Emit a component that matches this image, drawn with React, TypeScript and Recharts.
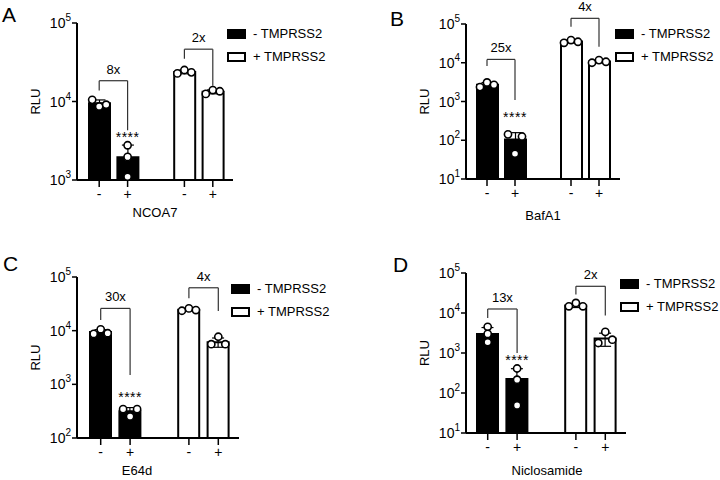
import { ComposedChart, Bar, Cell, ErrorBar, Scatter, XAxis, YAxis, ReferenceLine, ReferenceDot, Legend, Label } from 'recharts';

const FONT = '"Liberation Sans", Arial, sans-serif';

// categories: two "-"/"+" pairs with an empty slot between the groups
const CATS = ['neg1', 'pos1', 'gap', 'neg2', 'pos2'];
const TICK_LABELS = ['-', '+', '', '-', '+'];
const GROUP = ['minus', 'minus', '', 'plus', 'plus'];
const LEGEND_LABELS = ['- TMPRSS2', '+ TMPRSS2'];
const STAR_TEXT = '****';

// A - NCOA7
const A_MEAN = [9500, 1950, null, 23800, 13300];
const A_SD = [970, 835, null, 1250, 760];
const A_P1 = [10500, 2770, null, 22800, 12500];
const A_P2 = [8650, 1970, null, 25200, 14000];
const A_P3 = [9100, 1100, null, 23500, 13500];
const A_BR_TOP = [18400, 46400];
const A_BR_LEFT = [13800, 35000];
const A_BR_RIGHT = [4300, 15900];
const A_FOLD = ['8x', '2x'];
const A_STAR = 3700;
const A_TICKS = [1e3, 1e4, 1e5];

// B - BafA1
const B_MEAN = [2700, 104, null, 35300, 10800];
const B_SD = [375, 53, null, 2900, 850];
const B_P1 = [2350, 142, null, 32700, 10000];
const B_P2 = [3100, 125, null, 38500, 11700];
const B_P3 = [2700, 45, null, 34800, 10600];
const B_BR_TOP = [12200, 140000];
const B_BR_LEFT = [8300, 85000];
const B_BR_RIGHT = [1100, 26000];
const B_FOLD = ['25x', '4x'];
const B_STAR = 440;
const B_TICKS = [1e1, 1e2, 1e3, 1e4, 1e5];

// C - E64d
const C_MEAN = [9400, 314, null, 24600, 6100];
const C_SD = [1050, 55, null, 1300, 1200];
const C_P1 = [8700, 345, null, 23500, 5600];
const C_P2 = [10600, 252, null, 26000, 7700];
const C_P3 = [8950, 345, null, 24200, 5600];
const C_BR_TOP = [26000, 63000];
const C_BR_LEFT = [15800, 40000];
const C_BR_RIGHT = [1490, 23200];
const C_FOLD = ['30x', '4x'];
const C_STAR = 635;
const C_TICKS = [1e2, 1e3, 1e4, 1e5];

// D - Niclosamide
const D_MEAN = [3000, 225, null, 15500, 2300];
const D_SD = [1330, 180, null, 1800, 830];
const D_P1 = [4500, 410, null, 14700, 3370];
const D_P2 = [3000, 215, null, 17800, 1780];
const D_P3 = [1850, 49, null, 14700, 2150];
const D_BR_TOP = [12600, 46500];
const D_BR_LEFT = [7500, 29000];
const D_BR_RIGHT = [1000, 8600];
const D_FOLD = ['13x', '2x'];
const D_STAR = 750;
const D_TICKS = [1e1, 1e2, 1e3, 1e4, 1e5];

const W = 360;
const H = 240;
const X_AXIS_H = 40;
const Y_AXIS_W = 60;
const JITTER = 7;
const OVERLAP_PX = 6.5;

const buildRows = (mean, sd, p1, p2, p3) =>
  CATS.map((cat, i) => ({ cat, mean: mean[i], sd: sd[i], p1: p1[i], p2: p2[i], p3: p3[i] }));

// GraphPad-style scatter: points whose circles would overlap get spread sideways
function makeDot(key: string, decadePx: number) {
  return (props: any) => {
    const { cx, cy, payload } = props;
    if (!Number.isFinite(cx) || !Number.isFinite(cy)) return <g />;
    const keys = ['p1', 'p2', 'p3'];
    const vals = keys.map(k => payload[k]);
    const me = keys.indexOf(key);
    const near = (a: number, b: number) => Math.abs(Math.log10(vals[a] / vals[b])) * decadePx < OVERLAP_PX;
    const group = [me];
    let grew = true;
    while (grew) {
      grew = false;
      for (let j = 0; j < 3; j++) {
        if (!group.includes(j) && group.some(g => near(g, j))) {
          group.push(j);
          grew = true;
        }
      }
    }
    group.sort();
    const slots = group.length === 1 ? [0] : group.length === 2 ? [-JITTER, JITTER] : [-JITTER, 0, JITTER];
    const dx = slots[group.indexOf(me)];
    return <circle cx={cx + dx} cy={cy} r={3.6} fill="#fff" stroke="#000" strokeWidth={1.6} />;
  };
}

const XTick = (props: any) => {
  const { x, y, payload } = props;
  const label = TICK_LABELS[CATS.indexOf(payload.value)];
  if (!label) return <g />;
  return (
    <g>
      <line x1={x} x2={x} y1={y - 9} y2={y - 2} stroke="#000" strokeWidth={1.5} />
      <text x={x} y={y + 10} textAnchor="middle" fontSize={14} fontFamily={FONT} fill="#000">{label}</text>
    </g>
  );
};

const YTick = (props: any) => {
  const { x, y, payload } = props;
  const exp = Math.round(Math.log10(payload.value));
  return (
    <text x={x} y={y} dy={5} textAnchor="end" fontSize={14} fontFamily={FONT} fill="#000">
      10<tspan dy={-7} fontSize={10}>{exp}</tspan>
    </text>
  );
};

const LegendBox = () => (
  <div style={{ fontFamily: FONT, fontSize: 13, color: '#000' }}>
    {LEGEND_LABELS.map((l, i) => (
      <div key={l} style={{ display: 'flex', alignItems: 'center', height: 23, whiteSpace: 'nowrap' }}>
        <svg width={19} height={10} style={{ marginRight: 7 }}>
          <rect x={1} y={1} width={17} height={8} fill={i === 0 ? '#000' : '#fff'} stroke="#000" strokeWidth={2} />
        </svg>
        <span>{l}</span>
      </div>
    ))}
  </div>
);

function Panel(p: any) {
  const data = buildRows(p.mean, p.sd, p.p1, p.p2, p.p3);
  const decades = Math.log10(p.ticks[p.ticks.length - 1] / p.ticks[0]);
  const decadePx = (H - p.margin.top - p.margin.bottom - X_AXIS_H) / decades;
  const pairs = [[CATS[0], CATS[1]], [CATS[3], CATS[4]]];
  return (
    <div style={{ position: 'absolute', left: p.left, top: p.top, width: W, height: H }}>
      <ComposedChart width={W} height={H} data={data} margin={p.margin}>
        <XAxis
          dataKey="cat"
          type="category"
          height={X_AXIS_H}
          padding={p.padding}
          stroke="#000"
          axisLine={{ stroke: '#000', strokeWidth: 2 }}
          tickLine={false}
          tickSize={7}
          tickMargin={2}
          interval={0}
          tick={<XTick />}
        >
          <Label
            content={(lp: any) => {
              const vb = lp.viewBox;
              return (
                <text x={vb.x + vb.width / 2 + p.xLabelDx} y={vb.y + p.xLabelDy} dominantBaseline="central"
                  textAnchor="middle" fontSize={13} fontFamily={FONT} fill="#000">{p.drug}</text>
              );
            }}
          />
        </XAxis>
        <YAxis
          type="number"
          scale="log"
          domain={[p.ticks[0], p.ticks[p.ticks.length - 1]]}
          ticks={p.ticks}
          allowDataOverflow
          interval={0}
          width={Y_AXIS_W}
          stroke="#000"
          axisLine={{ stroke: '#000', strokeWidth: 2 }}
          tickLine={{ stroke: '#000', strokeWidth: 1.5 }}
          tickSize={5}
          tickMargin={1}
          tick={<YTick />}
        >
          <Label
            content={(lp: any) => {
              const vb = lp.viewBox;
              const cx = vb.x + vb.width - 42;
              const cy = vb.y + vb.height / 2;
              return (
                <text x={cx} y={cy} transform={`rotate(-90 ${cx} ${cy})`} dominantBaseline="central"
                  textAnchor="middle" fontSize={13} fontFamily={FONT} fill="#000">RLU</text>
              );
            }}
          />
        </YAxis>
        <Legend
          layout="vertical"
          align="center"
          verticalAlign="middle"
          content={<LegendBox />}
          wrapperStyle={{ left: p.legendLeft, top: p.legendTop, width: 'auto', height: 'auto' }}
        />
        <Bar dataKey="mean" barSize={21} isAnimationActive={false} stroke="#000" strokeWidth={2}>
          {data.map((d, i) => (
            <Cell key={d.cat} fill={GROUP[i] === 'minus' ? '#000' : '#fff'} />
          ))}
          <ErrorBar dataKey="sd" direction="y" width={6} stroke="#000" strokeWidth={1.2} />
        </Bar>
        {['p1', 'p2', 'p3'].map(k => (
          <Scatter key={k} dataKey={k} isAnimationActive={false} legendType="none" shape={makeDot(k, decadePx)} />
        ))}
        {pairs.map(([a, b], i) => (
          <ReferenceLine
            key={`top${i}`}
            segment={[{ x: a, y: p.brTop[i] }, { x: b, y: p.brTop[i] }]}
            stroke="#333"
            strokeWidth={1.2}
            ifOverflow="visible"
            label={{ value: p.fold[i], position: 'top', offset: 7, fontSize: 13, fill: '#000', fontFamily: FONT }}
          />
        ))}
        {pairs.map(([a], i) => (
          <ReferenceLine key={`l${i}`} segment={[{ x: a, y: p.brTop[i] }, { x: a, y: p.brLeft[i] }]}
            stroke="#333" strokeWidth={1.2} ifOverflow="visible" />
        ))}
        {pairs.map(([, b], i) => (
          <ReferenceLine key={`r${i}`} segment={[{ x: b, y: p.brTop[i] }, { x: b, y: p.brRight[i] }]}
            stroke="#333" strokeWidth={1.2} ifOverflow="visible" />
        ))}
        <ReferenceDot
          x={CATS[1]}
          y={p.star}
          r={0}
          ifOverflow="visible"
          label={(lp: any) => (
            <text x={lp.viewBox.x} y={lp.viewBox.y + 7} textAnchor="middle" fontSize={14} letterSpacing={0.5}
              fontFamily={FONT} fill="#000">{STAR_TEXT}</text>
          )}
        />
      </ComposedChart>
      <div style={{ position: 'absolute', left: p.letterLeft, top: p.letterTop, fontFamily: FONT, fontSize: 21, lineHeight: '21px', color: '#000' }}>
        {p.letter}
      </div>
    </div>
  );
}

export default function App() {
  return (
    <div style={{ position: 'absolute', left: 0, top: 0, width: 720, height: 480, background: '#fff' }}>
      <Panel left={0} top={0} letter="A" drug="NCOA7"
        mean={A_MEAN} sd={A_SD} p1={A_P1} p2={A_P2} p3={A_P3}
        brTop={A_BR_TOP} brLeft={A_BR_LEFT} brRight={A_BR_RIGHT} fold={A_FOLD} star={A_STAR} ticks={A_TICKS}
        margin={{ top: 23, right: 127, bottom: 20, left: 17 }} padding={{ left: 8, right: 6 }}
        xLabelDx={0} xLabelDy={32} legendLeft={227} legendTop={22} letterLeft={2} letterTop={4} />
      <Panel left={360} top={0} letter="B" drug="BafA1"
        mean={B_MEAN} sd={B_SD} p1={B_P1} p2={B_P2} p3={B_P3}
        brTop={B_BR_TOP} brLeft={B_BR_LEFT} brRight={B_BR_RIGHT} fold={B_FOLD} star={B_STAR} ticks={B_TICKS}
        margin={{ top: 24, right: 100, bottom: 21, left: 46 }} padding={{ left: 7, right: 7 }}
        xLabelDx={0} xLabelDy={36} legendLeft={255} legendTop={22} letterLeft={30} letterTop={8} />
      <Panel left={0} top={240} letter="C" drug="E64d"
        mean={C_MEAN} sd={C_SD} p1={C_P1} p2={C_P2} p3={C_P3}
        brTop={C_BR_TOP} brLeft={C_BR_LEFT} brRight={C_BR_RIGHT} fold={C_FOLD} star={C_STAR} ticks={C_TICKS}
        margin={{ top: 37, right: 121, bottom: 2, left: 17 }} padding={{ left: 9, right: 6 }}
        xLabelDx={-21} xLabelDy={32} legendLeft={231} legendTop={37} letterLeft={3} letterTop={13} />
      <Panel left={360} top={240} letter="D" drug="Niclosamide"
        mean={D_MEAN} sd={D_SD} p1={D_P1} p2={D_P2} p3={D_P3}
        brTop={D_BR_TOP} brLeft={D_BR_LEFT} brRight={D_BR_RIGHT} fold={D_FOLD} star={D_STAR} ticks={D_TICKS}
        margin={{ top: 33, right: 94, bottom: 7, left: 46 }} padding={{ left: 7, right: 6 }}
        xLabelDx={1} xLabelDy={37} legendLeft={260} legendTop={32} letterLeft={33} letterTop={14} />
    </div>
  );
}
